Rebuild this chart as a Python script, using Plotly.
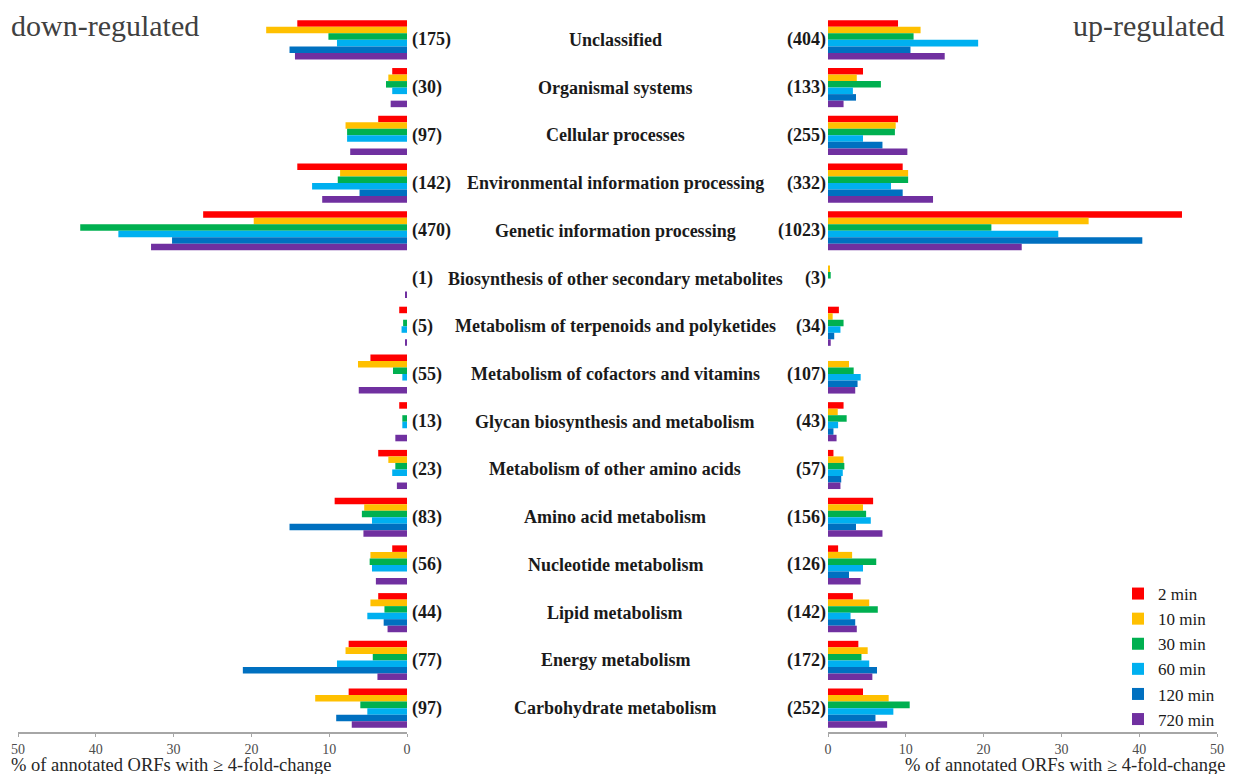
import plotly.graph_objects as go

categories = [
    "Unclassified", "Organismal systems", "Cellular processes",
    "Environmental information processing", "Genetic information processing",
    "Biosynthesis of other secondary metabolites",
    "Metabolism of terpenoids and polyketides",
    "Metabolism of cofactors and vitamins",
    "Glycan biosynthesis and metabolism", "Metabolism of other amino acids",
    "Amino acid metabolism", "Nucleotide metabolism", "Lipid metabolism",
    "Energy metabolism", "Carbohydrate metabolism",
]
down_counts = [175, 30, 97, 142, 470, 1, 5, 55, 13, 23, 83, 56, 44, 77, 97]
up_counts = [404, 133, 255, 332, 1023, 3, 34, 107, 43, 57, 156, 126, 142, 172, 252]

series_names = ["2 min", "10 min", "30 min", "60 min", "120 min", "720 min"]
colors = ["#FF0000", "#FFC000", "#00B050", "#00B0F0", "#0070C0", "#7030A0"]

# down-regulated (% of annotated ORFs), per time point, per category
down_2 = [14.1, 1.9, 3.7, 14.1, 26.2, 0, 1.0, 4.7, 1.0, 3.7, 9.3, 1.9, 3.7, 7.5, 7.5]
down_10 = [18.1, 2.4, 7.9, 8.6, 19.7, 0, 0, 6.3, 0, 2.4, 5.5, 4.7, 4.7, 7.9, 11.8]
down_30 = [10.1, 2.7, 7.7, 8.9, 42.0, 0, 0.5, 1.8, 0.6, 1.5, 5.8, 4.8, 2.9, 4.4, 6.0]
down_60 = [9.0, 1.9, 7.7, 12.2, 37.1, 0, 0.7, 0.6, 0.6, 1.9, 4.5, 4.5, 5.1, 9.0, 5.1]
down_120 = [15.1, 0, 0, 6.1, 30.2, 0, 0, 0, 0, 0, 15.1, 0, 3.0, 21.1, 9.1]
down_720 = [14.4, 2.1, 7.3, 10.9, 32.9, 0.2, 0.2, 6.2, 1.5, 1.3, 5.6, 4.0, 2.5, 3.8, 7.1]

# up-regulated
up_2 = [9.0, 4.5, 9.0, 9.6, 45.5, 0, 1.4, 0, 2.0, 0.7, 5.8, 1.3, 3.2, 3.9, 4.5]
up_10 = [11.9, 3.7, 8.7, 10.3, 33.5, 0.2, 0.6, 2.7, 1.25, 2.0, 4.5, 3.1, 5.3, 5.1, 7.8]
up_30 = [11.0, 6.8, 8.6, 10.3, 21.0, 0.35, 2.0, 3.3, 2.4, 2.1, 4.9, 6.2, 6.4, 4.3, 10.5]
up_60 = [19.3, 3.2, 4.5, 8.1, 29.6, 0, 1.6, 4.2, 1.3, 1.9, 5.5, 4.5, 2.9, 5.3, 8.4]
up_120 = [10.6, 3.6, 7.0, 9.6, 40.4, 0, 0.8, 3.8, 0.7, 1.7, 3.6, 2.7, 3.5, 6.3, 6.1]
up_720 = [15.0, 2.0, 10.2, 13.5, 24.9, 0, 0.35, 3.5, 1.1, 1.6, 7.0, 4.2, 3.7, 5.7, 7.6]

down_series = [down_2, down_10, down_30, down_60, down_120, down_720]
up_series = [up_2, up_10, up_30, up_60, up_120, up_720]

W, H = 1236, 774
TOP, BOTTOM = 16, 732
SERIF = "Liberation Serif"
ypos = list(range(len(categories)))


def py(px):
    """pixel row -> paper y"""
    return (BOTTOM - px) / (BOTTOM - TOP)


fig = go.Figure()
for name, col, vals in zip(series_names, colors, down_series):
    fig.add_trace(go.Bar(x=vals, y=ypos, orientation="h", name=name,
                         marker=dict(color=col, line=dict(width=0)),
                         xaxis="x", yaxis="y", showlegend=False))
for name, col, vals in zip(series_names, colors, up_series):
    fig.add_trace(go.Bar(x=vals, y=ypos, orientation="h", name=name,
                         marker=dict(color=col, line=dict(width=0)),
                         xaxis="x2", yaxis="y", showlegend=True))

axis_common = dict(
    tickvals=[0, 10, 20, 30, 40, 50], showgrid=False, zeroline=False,
    showline=True, linecolor="#A6A6A6", linewidth=1.5,
    ticks="outside", ticklen=3, tickcolor="#A6A6A6",
    tickfont=dict(family=SERIF, size=14, color="#4d4d4d"), fixedrange=True,
)

label_font = dict(family=SERIF, size=18, color="#1a1a1a")
annotations = []
for i, cat in enumerate(categories):
    annotations.append(dict(x=410 / W, y=i, xref="paper", yref="y",
                            text=f"<b>({down_counts[i]})</b>", showarrow=False,
                            xanchor="left", yanchor="middle", font=label_font))
    annotations.append(dict(x=828 / W, y=i, xref="paper", yref="y",
                            text=f"<b>({up_counts[i]})</b>", showarrow=False,
                            xanchor="right", yanchor="middle", font=label_font))
    annotations.append(dict(x=615 / W, y=i, xref="paper", yref="y",
                            text=f"<b>{cat}</b>", showarrow=False,
                            xanchor="center", yanchor="middle", font=label_font))

annotations += [
    dict(x=9 / W, y=py(25), xref="paper", yref="paper", text="down-regulated",
         showarrow=False, xanchor="left", yanchor="middle",
         font=dict(family=SERIF, size=30, color="#404040")),
    dict(x=1227 / W, y=py(25), xref="paper", yref="paper", text="up-regulated",
         showarrow=False, xanchor="right", yanchor="middle",
         font=dict(family=SERIF, size=30, color="#404040")),
    dict(x=9 / W, y=py(765), xref="paper", yref="paper",
         text="% of annotated ORFs with ≥ 4-fold-change",
         showarrow=False, xanchor="left", yanchor="middle",
         font=dict(family=SERIF, size=18.5, color="#262626")),
    dict(x=1227 / W, y=py(765), xref="paper", yref="paper",
         text="% of annotated ORFs with ≥ 4-fold-change",
         showarrow=False, xanchor="right", yanchor="middle",
         font=dict(family=SERIF, size=18.5, color="#262626")),
]

fig.update_layout(
    width=W, height=H,
    margin=dict(l=0, r=0, t=TOP, b=H - BOTTOM, autoexpand=False),
    paper_bgcolor="white", plot_bgcolor="white",
    barmode="group", bargap=0.18, bargroupgap=0,
    xaxis=dict(domain=[18 / W, 407 / W], range=[50, 0], anchor="y", **axis_common),
    xaxis2=dict(domain=[828 / W, 1217 / W], range=[0, 50], anchor="y", **axis_common),
    yaxis=dict(range=[14.5, -0.5], showticklabels=False, showgrid=False,
               zeroline=False, showline=False, ticks="", fixedrange=True),
    legend=dict(x=1118 / W, xanchor="left", y=py(576), yanchor="top",
                font=dict(family=SERIF, size=17, color="#1a1a1a"),
                bgcolor="rgba(0,0,0,0)", traceorder="normal", itemwidth=30,
                tracegroupgap=0),
    annotations=annotations,
    showlegend=True,
)

fig.write_html("out.html")
